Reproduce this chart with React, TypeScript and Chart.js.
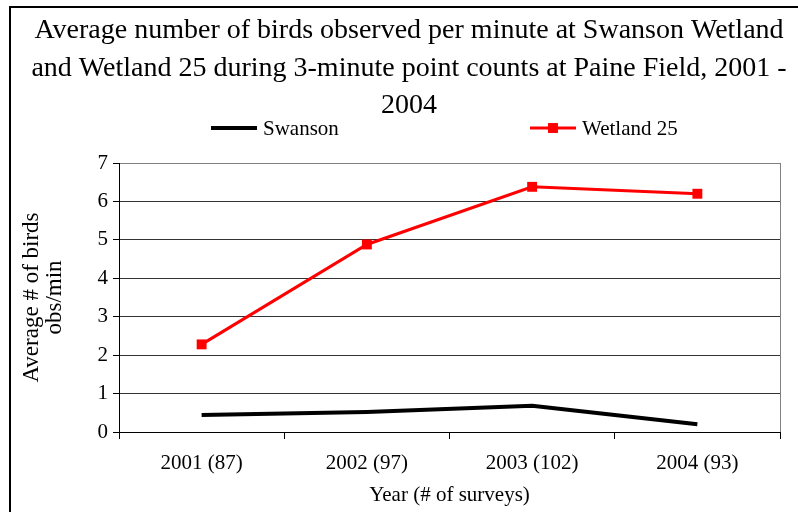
import React, { useEffect, useRef } from "react";
import { Chart, registerables } from "chart.js";

Chart.register(...registerables);

const categories = ["2001 (87)", "2002 (97)", "2003 (102)", "2004 (93)"];
const swanson = [0.44, 0.52, 0.68, 0.2];
const wetland25 = [2.28, 4.88, 6.38, 6.2];
const titleLines = [
  "Average number of birds observed per minute at Swanson Wetland",
  "and Wetland 25 during 3-minute point counts at Paine Field, 2001 -",
  "2004",
];
const yTitle = ["Average # of birds", "obs/min"];
const xTitle = "Year (# of surveys)";

const SERIF = "'Liberation Serif', 'Times New Roman', serif";

export default function App() {
  const ref = useRef<HTMLCanvasElement>(null);

  useEffect(() => {
    if (!ref.current) return;

    const overlay = {
      id: "overlay",
      afterDraw(chart: any) {
        const ctx = chart.ctx as CanvasRenderingContext2D;
        const { right, top, bottom } = chart.chartArea;
        ctx.save();
        // right border of plot area
        ctx.strokeStyle = "#808080";
        ctx.lineWidth = 1;
        ctx.beginPath();
        ctx.moveTo(Math.round(right) + 0.5, top);
        ctx.lineTo(Math.round(right) + 0.5, bottom);
        ctx.stroke();

        // title
        ctx.fillStyle = "#000";
        ctx.font = `28px ${SERIF}`;
        ctx.textAlign = "center";
        ctx.textBaseline = "middle";
        titleLines.forEach((l, i) => ctx.fillText(l, 409, 31 + i * 37.5));

        // legend
        const ds = chart.data.datasets;
        const items = [
          { x: 211, ds: ds[0] },
          { x: 530, ds: ds[1] },
        ];
        ctx.font = `21px ${SERIF}`;
        ctx.textAlign = "left";
        const ly = 128;
        items.forEach(({ x, ds: d }) => {
          ctx.strokeStyle = d.borderColor;
          ctx.lineWidth = d.borderWidth;
          ctx.beginPath();
          ctx.moveTo(x, ly);
          ctx.lineTo(x + 46, ly);
          ctx.stroke();
          if (d.pointRadius > 0) {
            ctx.fillStyle = d.pointBackgroundColor;
            const h = (d.pointRadius * Math.SQRT2) / 2;
            ctx.fillRect(x + 23 - h, ly - h, h * 2, h * 2);
          }
          ctx.fillStyle = "#000";
          ctx.fillText(d.label, x + 52, ly + 1);
        });
        ctx.restore();
      },
    };

    const chart = new Chart(ref.current, {
      type: "line",
      data: {
        labels: categories,
        datasets: [
          {
            label: "Swanson",
            data: swanson,
            borderColor: "#000000",
            backgroundColor: "#000000",
            borderWidth: 4,
            pointRadius: 0,
            pointHoverRadius: 0,
            tension: 0,
          },
          {
            label: "Wetland 25",
            data: wetland25,
            borderColor: "#ff0000",
            backgroundColor: "#ff0000",
            pointBackgroundColor: "#ff0000",
            pointBorderColor: "#ff0000",
            borderWidth: 3,
            pointStyle: "rect",
            pointRadius: 7,
            pointBorderWidth: 0,
            tension: 0,
          },
        ] as any,
      },
      options: {
        responsive: false,
        animation: false,
        events: [],
        layout: { padding: { top: 163, right: 18, bottom: 0, left: 0 } },
        plugins: {
          legend: { display: false },
          title: { display: false },
          tooltip: { enabled: false },
        },
        scales: {
          x: {
            type: "category",
            offset: true,
            grid: {
              offset: true,
              drawOnChartArea: false,
              drawTicks: true,
              tickLength: 7,
              color: "#000",
            },
            border: { color: "#000", width: 1 },
            ticks: {
              color: "#000",
              font: { family: SERIF, size: 21 },
              padding: 12,
              maxRotation: 0,
            },
            title: {
              display: true,
              text: xTitle,
              color: "#000",
              font: { family: SERIF, size: 21 },
              padding: { top: 0, bottom: 4 },
            },
            afterFit(s: any) {
              s.height = 80;
            },
          },
          y: {
            min: 0,
            max: 7,
            ticks: {
              stepSize: 1,
              color: "#000",
              font: { family: SERIF, size: 21 },
              padding: 5,
            },
            grid: {
              color: (c: any) => (c.tick && c.tick.value === 7 ? "#808080" : "#333333"),
              tickColor: "#000",
              tickLength: 6,
              drawTicks: true,
            },
            border: { color: "#000", width: 1 },
            title: {
              display: true,
              text: yTitle,
              color: "#000",
              font: { family: SERIF, size: 23, lineHeight: 1.0 },
              padding: { top: 20, bottom: 0 },
            },
            afterFit(s: any) {
              s.width = 119;
            },
          },
        },
      },
      plugins: [overlay],
    });

    return () => chart.destroy();
  }, []);

  return (
    <div
      style={{
        position: "fixed",
        left: 0,
        top: 0,
        width: 798,
        height: 512,
        overflow: "hidden",
        background: "#fff",
      }}
    >
      <div
        style={{
          position: "absolute",
          left: 9,
          top: 6,
          width: 820,
          height: 540,
          border: "2px solid #000",
          boxSizing: "border-box",
        }}
      />
      <canvas
        ref={ref}
        width={798}
        height={512}
        style={{ position: "absolute", left: 0, top: 0, width: 798, height: 512 }}
      />
    </div>
  );
}
